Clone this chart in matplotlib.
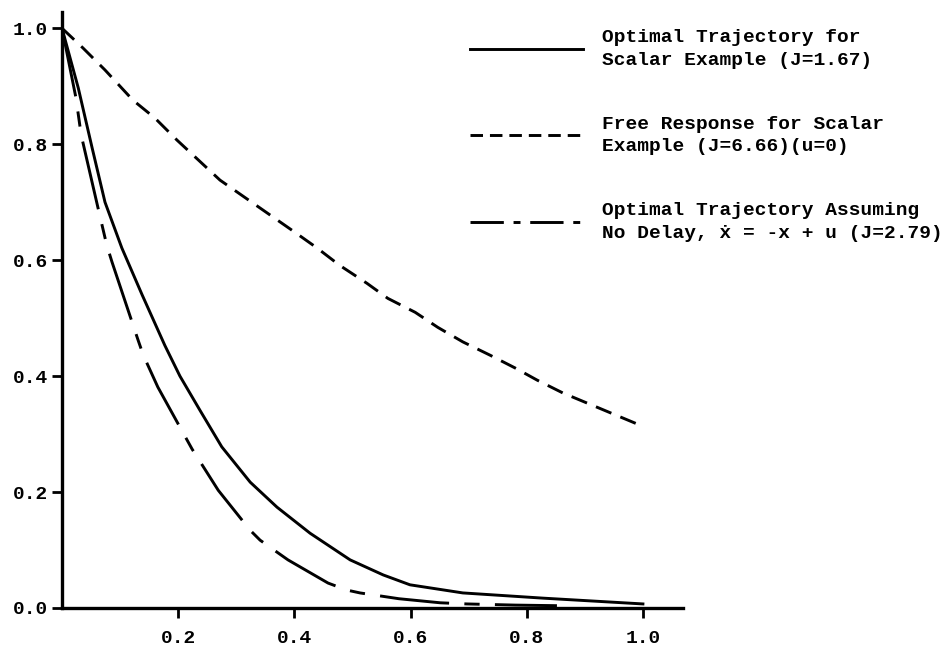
import matplotlib
matplotlib.use('Agg')
import matplotlib.pyplot as plt
from matplotlib.lines import Line2D

plt.rcParams['font.family'] = ['Liberation Mono', 'DejaVu Sans Mono']
plt.rcParams['font.weight'] = 'bold'
plt.rcParams['lines.scale_dashes'] = False

# optimal trajectory with delay (solid)
t_opt = [0.0, 0.028, 0.052, 0.074, 0.103, 0.138, 0.177, 0.203, 0.2375, 0.275, 0.324,
         0.37, 0.427, 0.496, 0.553, 0.599, 0.69, 0.828, 1.0]
x_opt = [1.0, 0.897, 0.793, 0.70, 0.621, 0.540, 0.453, 0.40, 0.341, 0.278, 0.217,
         0.174, 0.129, 0.083, 0.057, 0.040, 0.026, 0.017, 0.007]

# free response u = 0 (short dashes)
t_free = [0.0, 0.036, 0.074, 0.122, 0.16, 0.198, 0.272, 0.401, 0.439, 0.478, 0.525,
          0.561, 0.608, 0.647, 0.69, 0.737, 0.78, 0.818, 0.862, 1.003]
x_free = [1.0, 0.966, 0.928, 0.876, 0.845, 0.807, 0.738, 0.648, 0.621, 0.591, 0.560,
          0.534, 0.510, 0.484, 0.459, 0.436, 0.414, 0.393, 0.371, 0.312]

# optimal trajectory assuming no delay (long-short dashes)
t_nodelay = [0.0, 0.024, 0.033, 0.062, 0.077, 0.086, 0.131, 0.14, 0.165, 0.203, 0.224,
             0.25, 0.269, 0.324, 0.341, 0.372, 0.389, 0.458, 0.49, 0.513, 0.58, 0.651,
             0.697, 0.78, 0.852]
x_nodelay = [1.0, 0.88, 0.816, 0.69, 0.626, 0.597, 0.462, 0.436, 0.381, 0.312, 0.274,
             0.233, 0.203, 0.134, 0.117, 0.095, 0.083, 0.043, 0.031, 0.026, 0.016, 0.009,
             0.007, 0.005, 0.004]

xticks = [0.2, 0.4, 0.6, 0.8, 1.0]
xtick_labels = ['0.2', '0.4', '0.6', '0.8', '1.0']
yticks = [0.0, 0.2, 0.4, 0.6, 0.8, 1.0]
ytick_labels = ['0.0', '0.2', '0.4', '0.6', '0.8', '1.0']

labels = ['Optimal Trajectory for\nScalar Example (J=1.67)',
          'Free Response for Scalar\nExample (J=6.66)(u=0)',
          'Optimal Trajectory Assuming\nNo Delay, \u1e8b = -x + u (J=2.79)']

fig = plt.figure(figsize=(9.44, 6.53), dpi=100)
ax = fig.add_axes([62 / 944, 45 / 653, 621 / 944, 596 / 653])

lw = 2.1
ax.plot(t_opt, x_opt, color='black', lw=lw)
ax.plot(t_free, x_free, color='black', lw=lw, dashes=(12, 7))
ax.plot(t_nodelay, x_nodelay, color='black', lw=lw, dashes=(50, 11, 11, 11))

ax.set_xlim(0, 1.069)
ax.set_ylim(0, 1.028)
ax.set_xticks(xticks, labels=xtick_labels)
ax.set_yticks(yticks, labels=ytick_labels)
ax.tick_params(direction='out', length=7, width=2, labelsize=14, colors='black')
ax.tick_params(axis='x', pad=9)
ax.tick_params(axis='y', pad=3)

for side in ['top', 'right']:
    ax.spines[side].set_visible(False)
for side in ['left', 'bottom']:
    ax.spines[side].set_linewidth(2.4)

# legend proxies, dash lengths as they look in the key
handles = [Line2D([], [], color='black', lw=lw),
           Line2D([], [], color='black', lw=lw, dashes=(9, 5)),
           Line2D([], [], color='black', lw=lw, dashes=(24, 7, 5, 7))]
leg = fig.legend(handles, labels, loc='upper left', bbox_to_anchor=(470 / 944, 1 - 29 / 653),
                 frameon=False, fontsize=14, handlelength=5.8, handletextpad=1.0,
                 labelspacing=2.4, borderpad=0, borderaxespad=0)
for txt in leg.get_texts():
    txt.set_linespacing(1.45)

fig.savefig('out.png', dpi=100)
